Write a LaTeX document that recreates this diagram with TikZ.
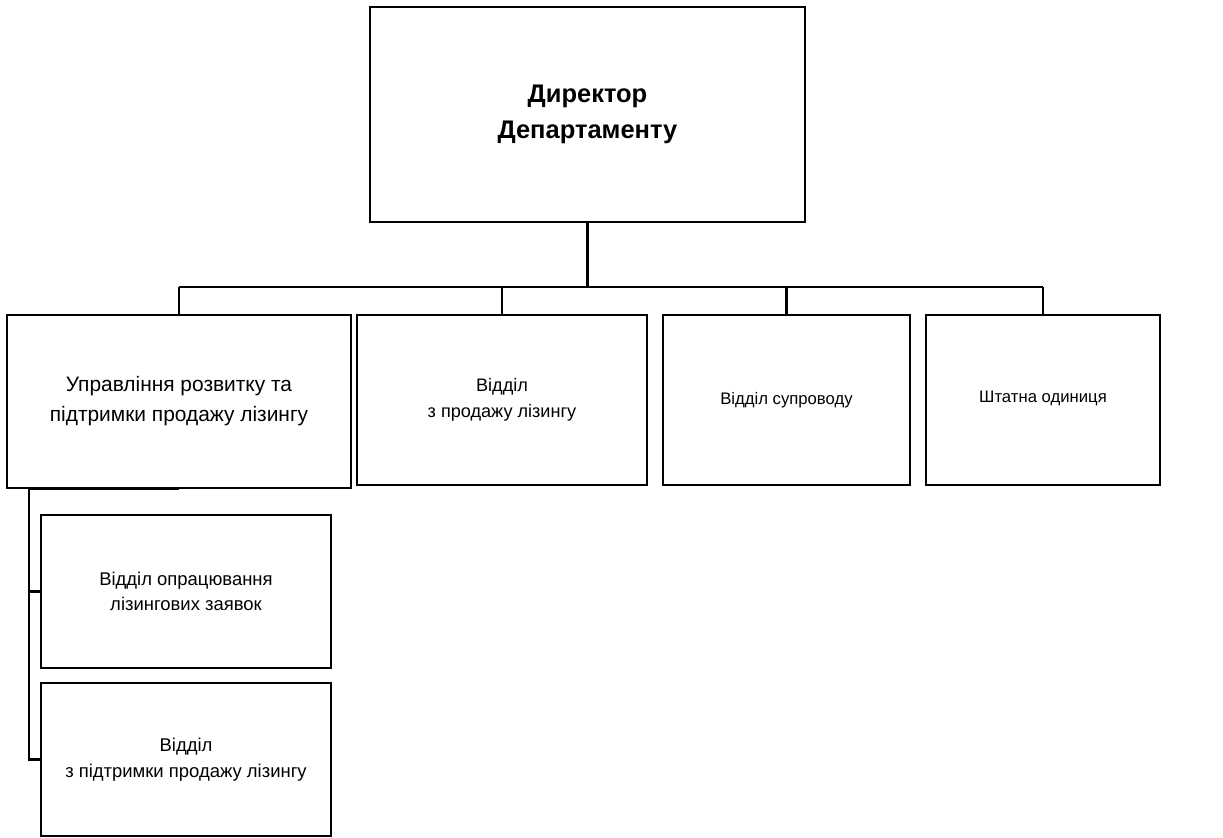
\documentclass[tikz,border=0pt]{standalone}
\usepackage{fontspec}
\setmainfont{Liberation Sans}
\usetikzlibrary{positioning, calc}

\begin{document}
\begin{tikzpicture}[
    headbox/.style={draw, line width=1.2pt, align=center, minimum width=8.7cm, minimum height=4.3cm, inner sep=2pt, font=\fontsize{14.5}{20.5}\selectfont\bfseries},
    mainunit/.style={draw, line width=1.2pt, align=center, minimum height=3.4cm, inner sep=2pt, font=\fontsize{9.5}{14.5}\selectfont},
    subunit/.style={draw, line width=1.2pt, align=center, minimum width=5.8cm, minimum height=3.06cm, inner sep=2pt, font=\fontsize{10.5}{14.5}\selectfont},
    link/.style={line width=1.2pt}
]
    \useasboundingbox (0,0) rectangle (24.46,-16.74);

    % Director
    \node[headbox] (director) at (11.75,-2.29) {Директор\\Департаменту};

    % First level
    \node[mainunit, minimum width=6.88cm, minimum height=3.46cm, font=\fontsize{11.9}{17}\selectfont] (upr) at (3.58,-8.03) {Управління розвитку та\\підтримки продажу лізингу};
    \node[mainunit, minimum width=5.8cm, font=\fontsize{10.3}{14.8}\selectfont] (prodazh) at (10.04,-8.0) {Відділ\\з продажу лізингу};
    \node[mainunit, minimum width=4.94cm] (suprovid) at (15.73,-8.0) {Відділ супроводу};
    \node[mainunit, minimum width=4.68cm] (shtat) at (20.86,-8.0) {\raisebox{4pt}{Штатна одиниця}};

    % Second level
    \node[subunit] (oprac) at (3.72,-11.83) {Відділ опрацювання\\лізингових заявок};
    \node[subunit] (pidtr) at (3.72,-15.19) {Відділ\\з підтримки продажу лізингу};

    % Helper points
    \coordinate (bus) at (11.76,-5.74);
    \coordinate (spine) at (0.58,-9.76);

    % Connections
    \draw[link] (director.south) -- (director.south |- bus);
    \draw[link] (upr.north |- bus) -- (shtat.north |- bus);
    \draw[link] (upr.north |- bus) -- (upr.north);
    \draw[link] (prodazh.north |- bus) -- (prodazh.north);
    \draw[link] (suprovid.north |- bus) -- (suprovid.north);
    \draw[link] (shtat.north |- bus) -- (shtat.north);

    \draw[link] (upr.south) -- (spine |- upr.south) -- (spine |- pidtr.west) -- (pidtr.west);
    \draw[link] (spine |- oprac.west) -- (oprac.west);

\end{tikzpicture}
\end{document}
